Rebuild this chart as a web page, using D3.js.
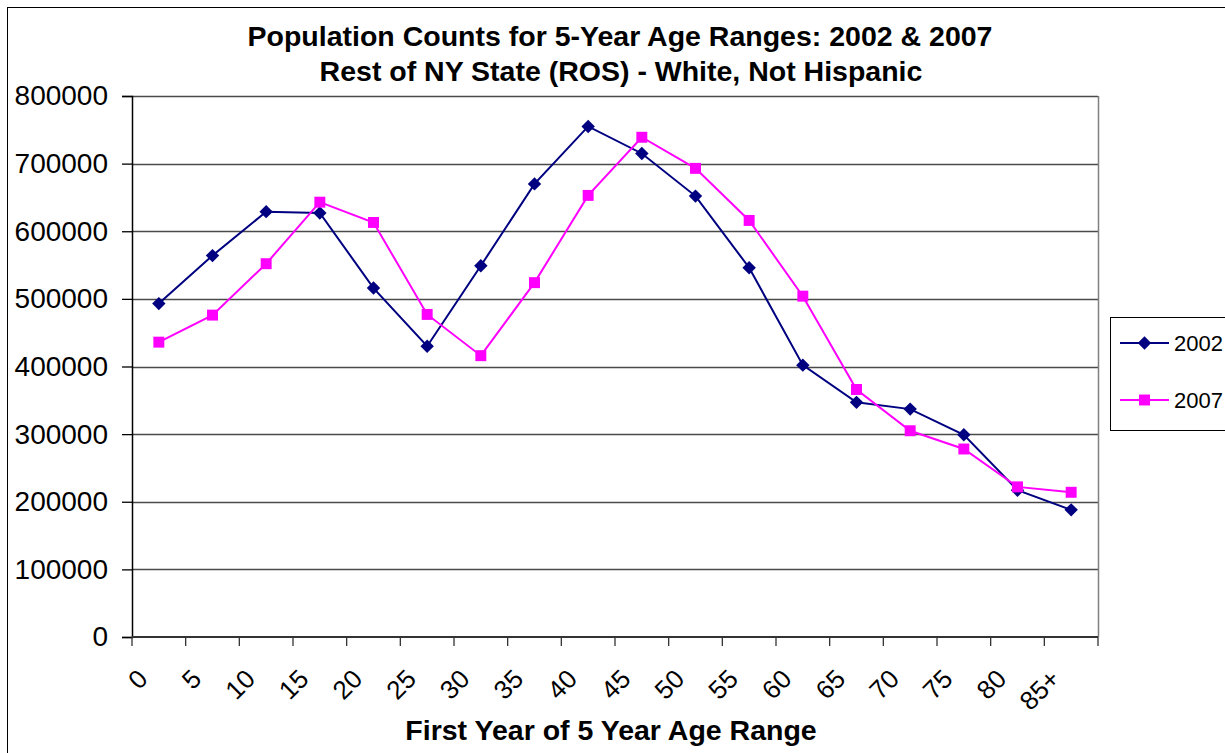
<!DOCTYPE html>
<html>
<head>
<meta charset="utf-8">
<script src="https://cdn.jsdelivr.net/npm/d3@7"></script>
<style>
  html, body { margin: 0; padding: 0; background: #fff; }
  svg { display: block; font-family: "Liberation Sans", Arial, sans-serif; }
</style>
</head>
<body>
<svg id="chart" width="1225" height="753"></svg>
<script>
// Age range starts (5-year bands)
const ageRanges = ["0","5","10","15","20","25","30","35","40","45","50","55","60","65","70","75","80","85+"];
// Population counts, White Not Hispanic, rest of NY State
const pop2002 = [493000,564000,629000,627000,516000,430000,549000,670000,755000,715000,652000,546000,402000,347000,337000,299000,217000,188000];
const pop2007 = [436000,476000,552000,643000,613000,477000,416000,524000,653000,739000,693000,616000,504000,366000,305000,278000,222000,214000];
const yTicks = [0,100000,200000,300000,400000,500000,600000,700000,800000];
const seriesNames = ["2002","2007"];

const svg = d3.select("#chart");
const plot = { left: 132, right: 1098, top: 96, bottom: 637 };

// chart frame
svg.append("rect")
  .attr("x", 7.5).attr("y", 7.5)
  .attr("width", 1240).attr("height", 770)
  .attr("fill", "#fff").attr("stroke", "#000").attr("stroke-width", 1);

const x = d3.scaleBand().domain(ageRanges).range([plot.left, plot.right]).paddingInner(0).paddingOuter(0);
const y = d3.scaleLinear().domain([0, 800000]).range([plot.bottom, plot.top]);

// gridlines
svg.append("g")
  .selectAll("line")
  .data(yTicks.filter(d => d > 0))
  .join("line")
  .attr("x1", plot.left).attr("x2", plot.right)
  .attr("y1", d => Math.round(y(d)) + 0.5).attr("y2", d => Math.round(y(d)) + 0.5)
  .attr("stroke", "#4a4a4a").attr("stroke-width", 1.3);

// right edge of plot area
svg.append("line")
  .attr("x1", plot.right + 0.5).attr("x2", plot.right + 0.5)
  .attr("y1", plot.top).attr("y2", plot.bottom)
  .attr("stroke", "#808080").attr("stroke-width", 1.5);

// y axis
const yAxis = svg.append("g")
  .attr("transform", `translate(${plot.left},0)`)
  .call(d3.axisLeft(y).tickValues(yTicks).tickFormat(d3.format("d")).tickSizeOuter(0).tickSize(10).tickPadding(14));
yAxis.select(".domain").attr("stroke", "#000").attr("stroke-width", 1.5);
yAxis.selectAll(".tick line").attr("stroke", "#000").attr("stroke-width", 1.3);
yAxis.selectAll(".tick text")
  .attr("font-size", 28).attr("fill", "#000")
  .attr("font-family", "Liberation Sans, Arial, sans-serif");

// x axis: ticks on band boundaries
const xAxisG = svg.append("g").attr("transform", `translate(0,${plot.bottom})`);
xAxisG.append("line")
  .attr("x1", plot.left).attr("x2", plot.right)
  .attr("y1", 0).attr("y2", 0)
  .attr("stroke", "#333").attr("stroke-width", 1.8);
const boundaries = ageRanges.map(d => x(d)).concat([plot.right]);
xAxisG.selectAll("line.tk")
  .data(boundaries)
  .join("line")
  .attr("class", "tk")
  .attr("x1", d => d).attr("x2", d => d)
  .attr("y1", 0).attr("y2", 9)
  .attr("stroke", "#333").attr("stroke-width", 1.3);
xAxisG.selectAll("text")
  .data(ageRanges)
  .join("text")
  .attr("transform", d => `translate(${x(d) + x.bandwidth() / 2 - 16},${37}) rotate(-45)`)
  .attr("text-anchor", "end")
  .attr("dy", "0.35em")
  .attr("font-size", 26)
  .attr("fill", "#000")
  .text(d => d);

// series
const series = [
  { name: seriesNames[0], values: pop2002, color: "#000080", rot: 45 },
  { name: seriesNames[1], values: pop2007, color: "#FF00FF", rot: 0 }
];
const line = d3.line()
  .x((d, i) => x(ageRanges[i]) + x.bandwidth() / 2)
  .y(d => y(d));
const marker = d3.symbol().type(d3.symbolSquare);

series.forEach(s => {
  svg.append("path")
    .datum(s.values)
    .attr("fill", "none")
    .attr("stroke", s.color)
    .attr("stroke-width", 2)
    .attr("d", line);
  svg.append("g")
    .selectAll("path")
    .data(s.values)
    .join("path")
    .attr("transform", (d, i) => `translate(${x(ageRanges[i]) + x.bandwidth() / 2},${y(d)}) rotate(${s.rot})`)
    .attr("d", marker.size(s.rot ? 90 : 120))
    .attr("fill", s.color);
});

// legend
const legend = svg.append("g");
legend.append("rect")
  .attr("x", 1110.5).attr("y", 317.5)
  .attr("width", 130).attr("height", 113)
  .attr("fill", "#fff").attr("stroke", "#000").attr("stroke-width", 1);
series.forEach((s, i) => {
  const ly = 343 + i * 57;
  legend.append("line")
    .attr("x1", 1120).attr("x2", 1169)
    .attr("y1", ly).attr("y2", ly)
    .attr("stroke", s.color).attr("stroke-width", 2);
  legend.append("path")
    .attr("transform", `translate(1144.5,${ly}) rotate(${s.rot})`)
    .attr("d", marker.size(s.rot ? 90 : 120))
    .attr("fill", s.color);
  legend.append("text")
    .attr("x", 1174).attr("y", ly)
    .attr("dy", "0.35em")
    .attr("font-size", 22)
    .attr("fill", "#000")
    .text(s.name);
});

// titles
svg.append("text")
  .attr("x", 620).attr("y", 46)
  .attr("text-anchor", "middle")
  .attr("font-size", 28.5).attr("font-weight", "bold")
  .text("Population Counts for 5-Year Age Ranges: 2002 & 2007");
svg.append("text")
  .attr("x", 621).attr("y", 81)
  .attr("text-anchor", "middle")
  .attr("font-size", 28.5).attr("font-weight", "bold")
  .text("Rest of NY State (ROS) - White, Not Hispanic");
svg.append("text")
  .attr("x", 611).attr("y", 740)
  .attr("text-anchor", "middle")
  .attr("font-size", 28.5).attr("font-weight", "bold")
  .text("First Year of 5 Year Age Range");
</script>
</body>
</html>
